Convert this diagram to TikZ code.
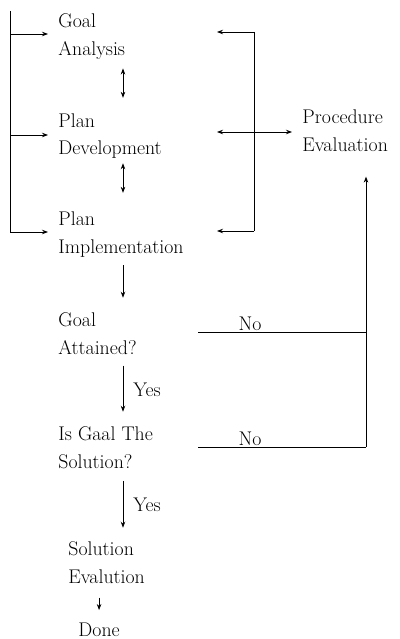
\documentclass[tikz,border=0pt]{standalone}
\usepackage{tikz}
\usetikzlibrary{arrows.meta,positioning}

\begin{document}
\begin{tikzpicture}[x=1pt,y=-1pt,
	>={Stealth[length=6pt,width=4.5pt]},
	line width=0.9pt,
	lbl/.style={inner sep=0pt,align=left,anchor=base west,font=\fontsize{19.8}{28}\selectfont},
	]
	\useasboundingbox (0,0) rectangle (399,639);
	\node[lbl] (goal) at (58,56) {Goal\\Analysis};
	\node[lbl] (dev) at (58,155) {Plan\\Development};
	\node[lbl] (impl) at (58,253) {Plan\\Implementation};
	\node[lbl] (proc) at (302,152) {Procedure\\Evaluation};
	\node[lbl] (attained) at (58,354) {Goal\\Attained?};
	\node[lbl] (sol) at (58,468) {Is Gaal The\\Solution?};
	\node[lbl] (eval) at (68,583) {Solution\\Evalution};
	\node[lbl] (done) at (78,636) {Done};
	% brackets
	\coordinate (axis) at (123,0);
	\coordinate (l1) at (10,34);
	\coordinate (l2) at (10,135);
	\coordinate (l3) at (10,232);
	\coordinate (r1) at (254,32);
	\coordinate (r2) at (254,132);
	\coordinate (r3) at (254,231);
	\coordinate (rx) at (217,0);
	\coordinate (no1) at (198,332);
	\coordinate (no2) at (198,447);
	\coordinate (n1) at (366,332);
	\coordinate (n2) at (366,447);
	\draw (10,11) -- (l3);
	\draw[->,shorten >=10pt] (l1) -- (l1 -| goal.west);
	\draw[->,shorten >=10pt] (l2) -- (l2 -| dev.west);
	\draw[->,shorten >=10pt] (l3) -- (l3 -| impl.west);
	\draw (r1) -- (r3);
	\draw[->] (r1) -- (r1 -| rx);
	\draw[->] (r3) -- (r3 -| rx);
	\draw[<->,shorten >=10pt] (r2 -| rx) -- (r2 -| proc.west);
	% main line
	\draw[<->,line width=0.7pt,shorten <=8pt,shorten >=15pt] (goal.south -| axis) -- (dev.north -| axis);
	\draw[<->,line width=0.7pt,shorten <=4pt,shorten >=18pt] (dev.south -| axis) -- (impl.north -| axis);
	\draw[->,line width=0.7pt,shorten <=8pt,shorten >=14pt] (impl.south -| axis) -- (attained.north -| axis);
	\draw[->,line width=0.7pt,shorten <=11pt,shorten >=14pt] (attained.south -| axis) -- (sol.north -| axis)
		node[lbl,midway,anchor=west,xshift=10pt] {Yes};
	\draw[->,line width=0.7pt,shorten <=12pt,shorten >=13pt] (sol.south -| axis) -- (eval.north -| axis)
		node[lbl,midway,anchor=west,xshift=10pt] {Yes};
	\draw[->,line width=0.7pt,shorten <=14pt,shorten >=12pt] (eval.south -| done.center) -- (done.north);
	% No branches
	\draw (no1) -- (n1) node[lbl,pos=.31,anchor=south,yshift=1pt] {No};
	\draw (no2) -- (n2) node[lbl,pos=.31,anchor=south,yshift=1pt] {No};
	\draw[->,shorten >=24pt] (n2) -- (n2 |- proc.south);
\end{tikzpicture}
\end{document}
